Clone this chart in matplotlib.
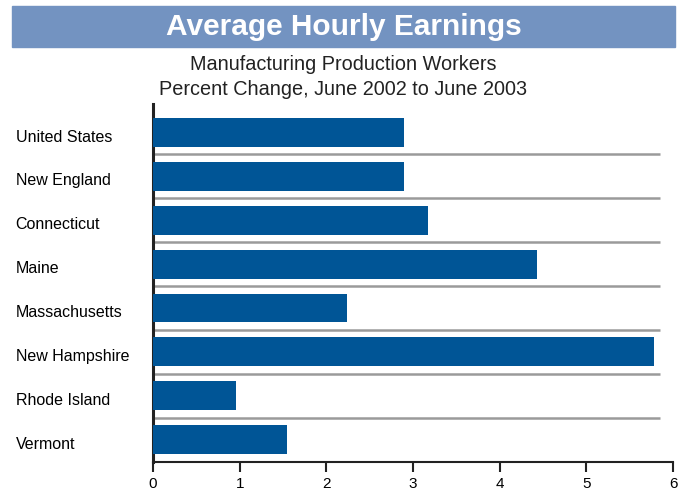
import matplotlib

matplotlib.use("Agg")
import matplotlib.pyplot as plt
from matplotlib.patches import Rectangle
from matplotlib.transforms import ScaledTranslation
import numpy as np

regions = ["United States", "New England", "Connecticut", "Maine",
           "Massachusetts", "New Hampshire", "Rhode Island", "Vermont"]
pct_change = [2.9, 2.9, 3.17, 4.43, 2.24, 5.78, 0.96, 1.55]
x_ticks = [0, 1, 2, 3, 4, 5, 6]

title = "Average Hourly Earnings"
subtitle = "Manufacturing Production Workers\nPercent Change, June 2002 to June 2003"

plt.rcParams["font.family"] = ["Liberation Sans", "DejaVu Sans"]

fig = plt.figure(figsize=(6.87, 4.91), dpi=100)

# title banner
fig.patches.append(Rectangle((12 / 687, 1 - 47 / 491), 663 / 687, 41 / 491,
                             transform=fig.transFigure, color="#7393c1", zorder=0))
fig.text(0.5, 1 - 27 / 491, title, ha="center", va="center", color="white",
         fontsize=21.5, fontweight="bold")
fig.text(0.5, 1 - 77 / 491, subtitle, ha="center", va="center", color="#222222",
         fontsize=14.3, linespacing=1.35)

ax = fig.add_axes([153 / 687, 1 - 462 / 491, 520 / 687, 358 / 491])
y = np.arange(len(regions))
ax.barh(y, pct_change, height=0.66, color="#005596", zorder=3)

# separators between rows
for k in range(len(regions) - 1):
    ax.plot([0, 5.85], [k + 0.5, k + 0.5], color="#9a9a9a", lw=1.8,
            solid_capstyle="butt", zorder=2)

ax.set_xlim(0, 6)
ax.set_ylim(len(regions) - 0.49, -0.65)
ax.set_xticks(x_ticks)
ax.set_xticklabels([str(t) for t in x_ticks], fontsize=11)
ax.set_yticks(y)
ax.set_yticklabels(regions, fontsize=11.5, ha="left")
ax.tick_params(axis="y", length=0, pad=99)
ax.tick_params(axis="x", direction="out", length=7, width=1.5, color="#222222")
# labels sit slightly below the bar centres in the original
shift = ScaledTranslation(0, -2.2 / 72, fig.dpi_scale_trans)
for lbl in ax.get_yticklabels():
    lbl.set_transform(lbl.get_transform() + shift)

for s in ["top", "right"]:
    ax.spines[s].set_visible(False)
ax.spines["left"].set_linewidth(2.2)
ax.spines["left"].set_color("#222222")
ax.spines["bottom"].set_linewidth(1.5)
ax.spines["bottom"].set_color("#222222")

fig.savefig("out.png", dpi=100)
